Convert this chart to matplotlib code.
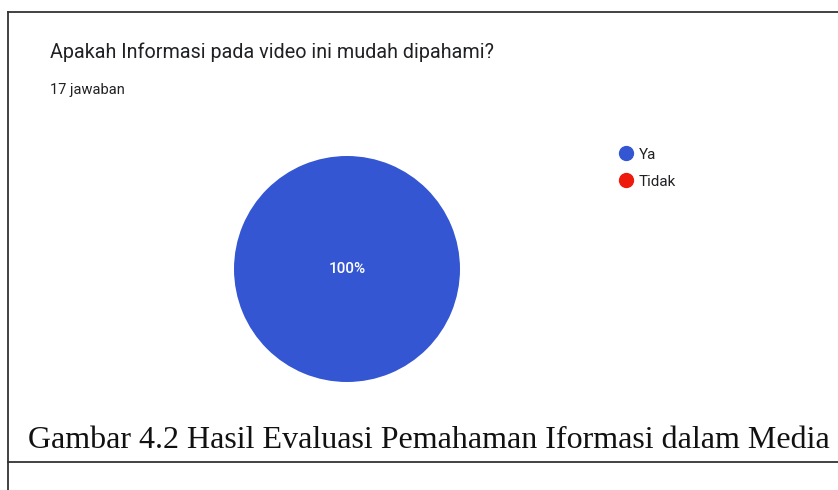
import matplotlib
matplotlib.use("Agg")
import matplotlib.pyplot as plt
from matplotlib.lines import Line2D

title = "Apakah Informasi pada video ini mudah dipahami?"
subtitle = "17 jawaban"
labels = ["Ya", "Tidak"]
values = [17, 0]
colors = ["#3456d2", "#ee1a0c"]
caption = "Gambar 4.2 Hasil Evaluasi Pemahaman Iformasi dalam Media"

W, H = 838, 490
fig = plt.figure(figsize=(W / 100, H / 100), dpi=100)
fig.patch.set_facecolor("white")

def fx(px):
    return px / W

def fy(py):
    return 1 - py / H

# frame lines
line_kw = dict(color="#333333", linewidth=1.3, transform=fig.transFigure)
fig.add_artist(Line2D([fx(8), 1.0], [fy(12), fy(12)], **line_kw))
fig.add_artist(Line2D([fx(8), fx(8)], [fy(12), 0.0], **line_kw))
fig.add_artist(Line2D([fx(8), 1.0], [fy(462), fy(462)], **line_kw))

# texts
fig.text(fx(50), fy(52), title, fontsize=14.2, family="Roboto", color="#202124", va="center")
fig.text(fx(50), fy(90), subtitle, fontsize=10.5, family="Roboto", color="#202124", va="center")
fig.text(fx(28), fy(440), caption, fontsize=23, family="Liberation Serif", color="#111111", va="center")

# pie
cx, cy, r = 347, 269, 113
ax = fig.add_axes([fx(cx - r), fy(cy + r), 2 * r / W, 2 * r / H])

def pct(p):
    return f"{p:.0f}%" if p > 0 else ""

wedges, texts, autotexts = ax.pie(values, colors=colors, startangle=90, counterclock=False,
                                  autopct=pct, pctdistance=0.0, radius=1.0,
                                  textprops=dict(color="white", fontsize=11, family="Roboto",
                                                 fontweight="medium"))
ax.set_xlim(-1, 1)
ax.set_ylim(-1, 1)
ax.axis("off")

# legend
handles = [Line2D([0], [0], marker="o", linestyle="none", markersize=10,
                  markerfacecolor=c, markeredgecolor=c) for c in colors]
leg = fig.legend(handles, labels, loc="upper left", bbox_to_anchor=(fx(609), fy(140)),
                 frameon=False, handletextpad=0.25, labelspacing=0.85,
                 borderpad=0, handlelength=1.2, prop=dict(family="Roboto", size=11))
for t in leg.get_texts():
    t.set_color("#202124")

fig.savefig("out.png", dpi=100, facecolor="white")
